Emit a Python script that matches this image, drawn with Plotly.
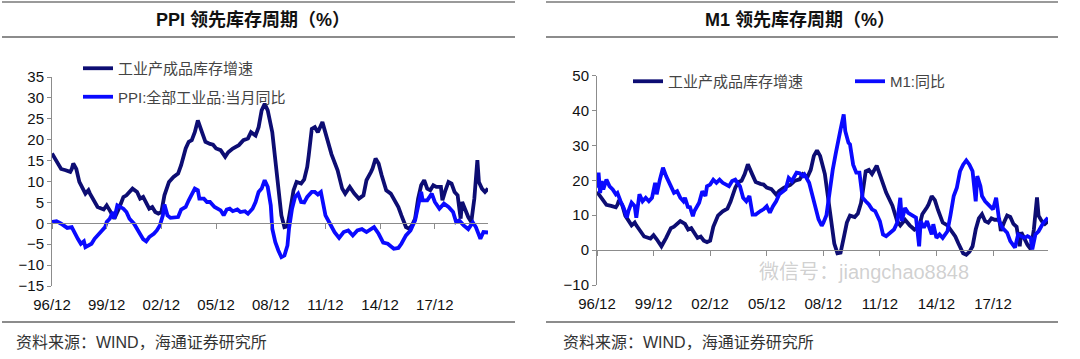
import plotly.graph_objects as go

# ---------------- data (month index: 0 = 1996/12) ----------------
tick_months = [0, 36, 72, 108, 144, 180, 216, 252]
tick_labels = ["96/12", "99/12", "02/12", "05/12", "08/12", "11/12", "14/12", "17/12"]

inv_month = [0, 3, 6, 9, 11, 12, 13, 14, 16, 18, 22, 24, 25, 27, 30, 34, 36, 38, 40, 41,
             44, 47, 49, 51, 53, 56, 58, 60, 62, 64, 66, 68, 70, 72, 74, 77, 80, 83, 85, 88,
             90, 92, 94, 96, 99, 101, 104, 106, 108, 111, 114, 116, 119, 123, 126, 129, 131, 134, 136, 138,
             140, 142, 145, 147, 149, 151, 153, 155, 157, 159, 161, 164, 166, 168, 169, 171, 173, 175, 178, 181,
             184, 188, 191, 193, 196, 199, 202, 205, 207, 210, 211, 213, 215, 217, 220, 223, 226, 228, 230, 233,
             235, 237, 239, 241, 243, 245, 247, 249, 251, 253, 256, 257, 259, 261, 263, 265, 267, 269, 270, 272,
             274, 276, 278, 280, 281, 283, 285, 287]
inv_value = [16.7, 14.7, 13.0, 12.7, 12.5, 12.3, 13.0, 14.3, 13.0, 9.9, 7.1, 7.9, 7.1, 5.9, 3.9, 3.3, 4.3, 3.1, 1.9, 1.1,
             3.5, 6.3, 6.7, 7.5, 8.3, 7.5, 5.9, 6.3, 4.7, 3.5, 3.9, 2.7, 2.3, 2.7, 6.7, 9.9, 11.1, 11.9, 13.9, 17.9,
             19.5, 19.9, 21.8, 24.6, 21.5, 19.5, 19.0, 18.8, 17.9, 17.5, 15.9, 17.0, 17.9, 18.7, 19.9, 20.3, 21.8, 21.0, 23.0, 27.0,
             28.6, 27.0, 21.8, 14.7, 8.3, 1.9, -0.9, -0.7, 3.5, 7.9, 9.9, 9.5, 10.5, 13.5, 16.3, 22.6, 23.0, 21.8, 24.2, 20.3,
             16.5, 12.7, 8.3, 7.1, 8.7, 7.1, 5.9, 6.7, 10.3, 12.3, 13.1, 15.5, 14.3, 11.5, 7.9, 7.1, 5.1, 3.9, 1.9, -0.9,
             -1.3, -0.5, 1.1, 5.9, 9.1, 10.3, 8.3, 7.9, 9.1, 8.7, 8.7, 5.5, 7.9, 9.9, 9.5, 7.5, 6.7, 1.1, 5.1, 3.1,
             1.5, 0.3, 5.9, 15.1, 9.9, 8.3, 7.5, 8.3]

ppi_month = [0, 3, 6, 8, 10, 13, 15, 17, 19, 21, 22, 24, 26, 28, 30, 33, 35, 36, 38, 40,
             41, 43, 45, 47, 49, 51, 54, 56, 58, 60, 62, 64, 67, 69, 71, 73, 74, 76, 78, 81,
             83, 85, 88, 90, 92, 94, 96, 97, 100, 102, 104, 107, 111, 113, 115, 117, 119, 122, 124, 127,
             129, 132, 134, 136, 138, 140, 142, 144, 145, 147, 149, 151, 153, 155, 156, 158, 160, 162, 164, 166,
             168, 171, 173, 175, 177, 178, 180, 183, 186, 189, 192, 195, 198, 201, 204, 207, 212, 215, 218, 221,
             225, 228, 230, 233, 236, 239, 241, 243, 244, 247, 250, 252, 255, 258, 261, 264, 266, 268, 271, 274,
             277, 279, 282, 284, 287]
ppi_value = [0.3, 0.5, -0.1, -0.6, -1.1, -0.9, -2.5, -3.7, -4.9, -4.3, -5.7, -5.3, -4.9, -3.7, -2.9, -1.7, -0.9, 0.3, 1.1, 2.7,
             1.1, 4.3, 3.9, 3.5, 2.7, 1.1, -0.1, -1.3, -2.9, -3.8, -4.3, -3.3, -2.5, -1.7, -0.5, 1.9, 4.5, 1.9, 1.3, 1.3,
             1.5, 3.3, 3.9, 5.5, 6.7, 8.3, 7.9, 5.9, 5.9, 5.1, 5.1, 3.9, 3.1, 1.9, 3.3, 3.5, 2.9, 3.3, 2.7, 2.9,
             2.3, 3.5, 5.1, 7.5, 8.3, 10.3, 8.7, 4.3, -1.3, -4.5, -6.5, -8.1, -7.7, -5.3, -1.3, 3.5, 6.3, 7.1, 5.1, 5.0,
             6.3, 7.5, 7.5, 6.9, 7.5, 5.9, 1.9, -0.1, -2.1, -3.5, -2.1, -1.7, -2.9, -1.7, -1.4, -2.1, -0.9, -2.5, -4.6, -4.9,
             -6.1, -5.9, -4.9, -2.9, -1.7, 0.7, 4.3, 7.5, 5.5, 5.5, 7.1, 5.1, 3.5, 4.7, 3.9, 2.7, 0.3, 0.7, -0.5, -1.4,
             0.2, -0.9, -3.7, -2.1, -2.2]

m1_month = [0, 1, 2, 3, 4, 6, 8, 10, 12, 13, 15, 17, 19, 20, 22, 24, 25, 27, 29, 31,
            33, 35, 37, 38, 40, 42, 44, 47, 49, 51, 53, 55, 56, 58, 59, 61, 62, 65, 66, 67,
            69, 70, 72, 74, 76, 78, 80, 82, 84, 86, 88, 91, 93, 95, 97, 99, 101, 104, 106, 108,
            110, 112, 114, 116, 120, 122, 124, 127, 129, 131, 132, 135, 137, 139, 141, 143, 144, 146, 148, 150,
            152, 154, 155, 157, 158, 160, 161, 163, 165, 167, 169, 171, 173, 175, 177, 180, 182, 184, 187, 189,
            191, 193, 194, 196, 198, 201, 203, 205, 206, 208, 210, 213, 214, 216, 218, 220, 223, 225, 227, 229,
            231, 233, 235, 237, 239, 241, 242, 244, 245, 247, 250, 252, 254, 256, 258, 261, 263, 266, 268, 270,
            272, 274, 276, 277, 279, 281, 284, 287]
m1_value = [17.9, 22.2, 16.4, 19.8, 17.4, 20.2, 18.3, 17.4, 16.0, 16.4, 14.0, 12.1, 9.3, 11.2, 13.6, 12.6, 9.3, 16.0, 14.0, 15.0,
            14.0, 15.0, 19.3, 16.0, 20.2, 23.6, 21.2, 17.9, 16.4, 16.9, 15.0, 14.0, 15.0, 12.1, 12.6, 9.7, 11.2, 13.6, 15.0, 16.9,
            15.5, 18.3, 18.8, 20.2, 19.3, 20.2, 19.3, 18.8, 18.3, 19.8, 20.2, 18.3, 15.0, 14.0, 15.5, 10.2, 10.2, 11.2, 11.7, 12.6,
            10.7, 12.6, 14.0, 16.0, 17.4, 20.7, 19.8, 22.2, 22.0, 21.2, 21.7, 19.3, 16.0, 12.1, 8.8, 7.0, 7.8, 10.0, 17.4, 23.0,
            27.9, 33.1, 34.6, 38.9, 34.1, 30.8, 30.3, 24.5, 22.2, 22.2, 15.0, 14.0, 13.1, 11.7, 11.2, 8.3, 4.5, 4.0, 5.0, 5.9,
            7.8, 15.0, 8.3, 12.1, 10.7, 9.7, 9.3, 1.1, 8.3, 6.4, 8.3, 4.5, 7.4, 3.5, 4.5, 3.5, 5.4, 10.2, 15.5, 17.9,
            22.6, 24.5, 25.7, 24.5, 22.6, 14.0, 21.2, 18.3, 15.5, 14.0, 12.6, 11.7, 15.0, 8.3, 6.4, 5.0, 2.6, 0.7, 4.5, 4.0,
            3.5, 4.0, 3.5, 0.2, 4.5, 5.4, 7.8, 9.3]

name_inv = "工业产成品库存增速"
name_ppi = "PPI:全部工业品:当月同比"
name_m1 = "M1:同比"

# ---------------- styling ----------------
W, H = 1080, 359
DARK = "#0d0d73"
BLUE = "#0a0aff"
AX = "#8c8c8c"
FONT = "Liberation Sans, Arial, Noto Sans CJK SC"


def px_x(p):
    return p / W


def px_y(p):
    return (H - p) / H


fig = go.Figure()

# left panel
fig.add_trace(go.Scatter(x=inv_month, y=inv_value, mode="lines", name=name_inv,
                         line=dict(color=DARK, width=3.8), xaxis="x", yaxis="y",
                         legend="legend", legendgroup="a"))
fig.add_trace(go.Scatter(x=ppi_month, y=ppi_value, mode="lines", name=name_ppi,
                         line=dict(color=BLUE, width=3.8), xaxis="x", yaxis="y",
                         legend="legend", legendgroup="b"))
# right panel
fig.add_trace(go.Scatter(x=inv_month, y=inv_value, mode="lines", name=name_inv,
                         line=dict(color=DARK, width=3.8), xaxis="x2", yaxis="y2",
                         legend="legend2"))
fig.add_trace(go.Scatter(x=m1_month, y=m1_value, mode="lines", name=name_m1,
                         line=dict(color=BLUE, width=3.8), xaxis="x2", yaxis="y2",
                         legend="legend2"))
# zero-line axes (carry the tick marks at y = 0)
fig.add_trace(go.Scatter(x=[None], y=[None], xaxis="x3", yaxis="y", showlegend=False, hoverinfo="skip"))
fig.add_trace(go.Scatter(x=[None], y=[None], xaxis="x4", yaxis="y2", showlegend=False, hoverinfo="skip"))

xr = [0, 287]
L_dom_x = [px_x(52), px_x(488)]
R_dom_x = [px_x(597), px_x(1048)]
L_dom_y = [px_y(286), px_y(77)]
R_dom_y = [px_y(285), px_y(75.7)]

label_axis = dict(range=xr, tickvals=tick_months, ticktext=tick_labels, ticks="", showline=False,
                  showgrid=False, zeroline=False, tickfont=dict(family=FONT, size=15, color="#111"),
                  ticklabelstandoff=8, automargin=False)
val_axis = dict(showline=True, linecolor=AX, linewidth=1, ticks="outside", ticklen=4, tickcolor=AX,
                showgrid=False, zeroline=False, tickfont=dict(family=FONT, size=15, color="#111"),
                automargin=False)
zero_axis = dict(range=xr, tickvals=tick_months, ticks="outside", ticklen=5, tickcolor=AX,
                 showline=True, linecolor=AX, linewidth=1, showticklabels=False,
                 showgrid=False, zeroline=False, anchor="free", side="bottom", automargin=False)

L_zero = L_dom_y[0] + (0 - (-15)) / 50 * (L_dom_y[1] - L_dom_y[0])
R_zero = R_dom_y[0] + (0 - (-10)) / 60 * (R_dom_y[1] - R_dom_y[0])

shapes = []
for x0, x1 in [(2, 515), (546, 1058)]:
    shapes.append(dict(type="line", xref="paper", yref="paper", x0=px_x(x0), x1=px_x(x1),
                       y0=px_y(2), y1=px_y(2), line=dict(color="#9a9a9a", width=2)))
    shapes.append(dict(type="line", xref="paper", yref="paper", x0=px_x(x0), x1=px_x(x1),
                       y0=px_y(37), y1=px_y(37), line=dict(color="#666", width=1.3)))
    shapes.append(dict(type="line", xref="paper", yref="paper", x0=px_x(x0), x1=px_x(x1),
                       y0=px_y(322), y1=px_y(322), line=dict(color="#666", width=1.3)))

annotations = [
    dict(text="<b>PPI 领先库存周期（%）</b>", x=px_x(253), y=px_y(20), xref="paper", yref="paper",
         showarrow=False, xanchor="center", yanchor="middle", font=dict(family=FONT, size=18, color="#111")),
    dict(text="<b>M1 领先库存周期（%）</b>", x=px_x(800), y=px_y(20), xref="paper", yref="paper",
         showarrow=False, xanchor="center", yanchor="middle", font=dict(family=FONT, size=18, color="#111")),
    dict(text="资料来源：WIND，海通证券研究所", x=px_x(14), y=px_y(342), xref="paper", yref="paper",
         showarrow=False, xanchor="left", yanchor="middle", font=dict(family=FONT, size=16, color="#333")),
    dict(text="资料来源：WIND，海通证券研究所", x=px_x(561), y=px_y(342), xref="paper", yref="paper",
         showarrow=False, xanchor="left", yanchor="middle", font=dict(family=FONT, size=16, color="#333")),
    dict(text="微信号：jiangchao8848", x=px_x(757), y=px_y(272), xref="paper", yref="paper",
         showarrow=False, xanchor="left", yanchor="middle",
         font=dict(family=FONT, size=20, color="rgba(150,150,150,0.45)")),
]

fig.update_layout(
    width=W, height=H, margin=dict(l=0, r=0, t=0, b=0, pad=0, autoexpand=False),
    paper_bgcolor="white", plot_bgcolor="rgba(0,0,0,0)",
    showlegend=True,
    xaxis=dict(domain=L_dom_x, anchor="y", **label_axis),
    yaxis=dict(domain=L_dom_y, anchor="x", range=[-15, 35], dtick=5, **val_axis),
    xaxis2=dict(domain=R_dom_x, anchor="y2", **label_axis),
    yaxis2=dict(domain=R_dom_y, anchor="x2", range=[-10, 50], dtick=10, **val_axis),
    xaxis3=dict(overlaying="x", position=L_zero, **zero_axis),
    xaxis4=dict(overlaying="x2", position=R_zero, **zero_axis),
    legend=dict(x=px_x(78), y=px_y(52), xanchor="left", yanchor="top", orientation="v",
                bgcolor="rgba(0,0,0,0)", tracegroupgap=6,
                font=dict(family=FONT, size=15, color="#444")),
    legend2=dict(x=px_x(628), y=px_y(65), xanchor="left", yanchor="top", orientation="h",
                 bgcolor="rgba(0,0,0,0)", entrywidth=177, entrywidthmode="pixels",
                 font=dict(family=FONT, size=15, color="#444")),
    shapes=shapes, annotations=annotations,
)

fig.write_html("out.html", config={"displayModeBar": False},
               post_script="document.body.style.margin='0px';document.body.style.padding='0px';"
                           "document.body.style.overflow='hidden';")
